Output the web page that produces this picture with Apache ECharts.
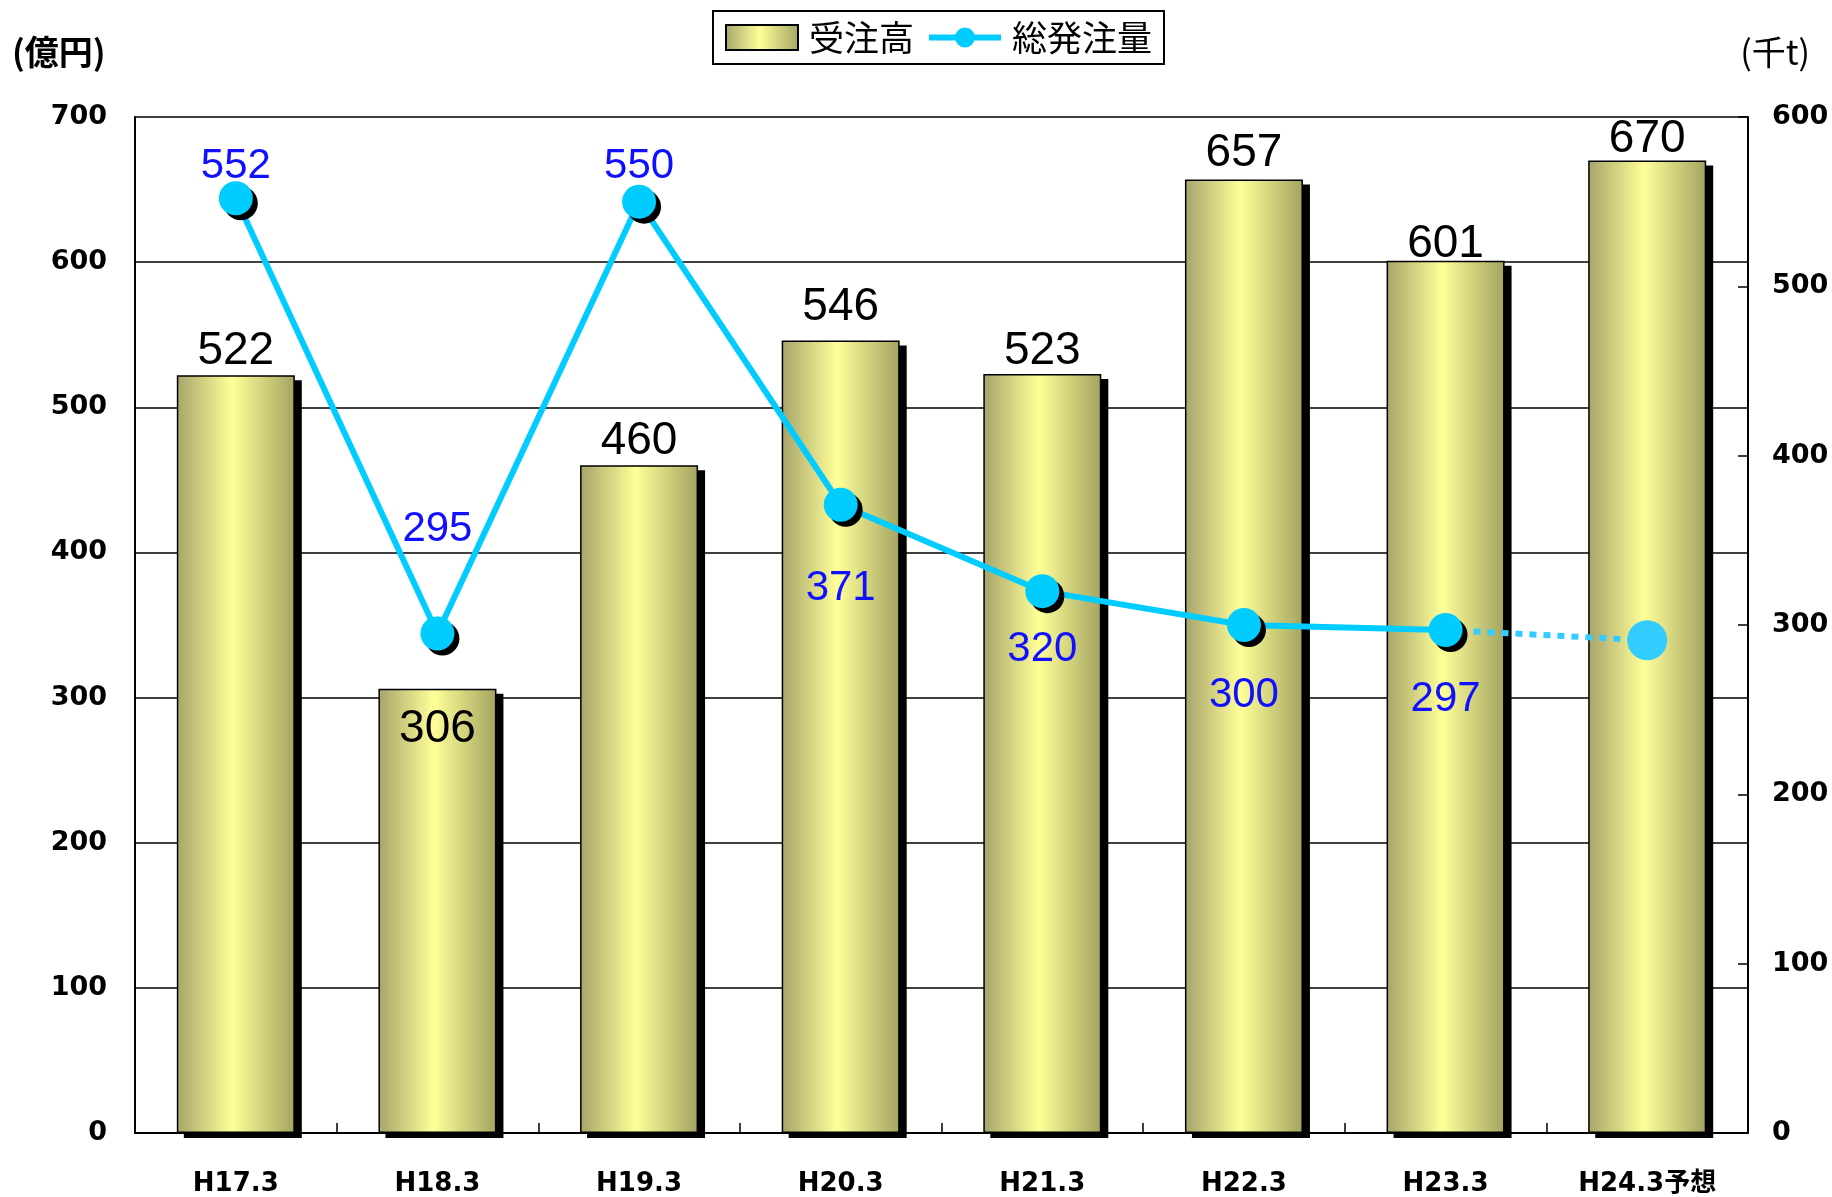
<!DOCTYPE html>
<html><head><meta charset="utf-8">
<script src="https://cdn.jsdelivr.net/npm/echarts@6/dist/echarts.min.js"></script>
<style>html,body{margin:0;padding:0;background:#fff}#c{width:1832px;height:1197px}</style>
</head><body><div id="c"></div>
<script>
const categories = ['H17.3','H18.3','H19.3','H20.3','H21.3','H22.3','H23.3','H24.3予想'];
const orders = [522, 306, 460, 546, 523, 657, 601, 670];
const volume = [552, 295, 550, 371, 320, 300, 297, 291];
const leftTicks = {min: 0, max: 700, interval: 100};
const rightTicks = {min: 0, max: 600, interval: 100};

const FONT = '"Liberation Sans", "Noto Sans CJK JP", Arial, sans-serif';
const AXFONT = '"DejaVu Sans", "Noto Sans CJK JP", sans-serif';
const CJK = '"Noto Sans CJK JP", sans-serif';
const BAR_W = 118;
const chart = echarts.init(document.getElementById('c'));

const barGrad = new echarts.graphic.LinearGradient(0,0,1,0,[
  {offset:0,color:'#a6a46a'},{offset:0.47,color:'#ffff99'},{offset:1,color:'#a4a462'}]);

const barLabelCfg = [
  {position:'top',distance:1},{position:'insideTop',distance:17},{position:'top',distance:1},
  {position:'top',distance:10},{position:'top',distance:0},{position:'top',distance:3},
  {position:'top',distance:-7},{position:'top',distance:-2}];
const lineLabelCfg = [
  {position:'top',distance:-6},{position:'top',distance:66},{position:'top',distance:-3},
  {position:'bottom',distance:46},{position:'bottom',distance:20},{position:'bottom',distance:32},
  {position:'bottom',distance:31}];

const barData = orders.map((v,i)=>({value:v,label:barLabelCfg[i]}));
const shadowData = orders.map((v,i)=>[i,v]);
const solidData = volume.map((v,i)=> i<7 ? {value:v,label:lineLabelCfg[i]} : '-');
const dotData = volume.map((v,i)=> i>=6 ? v : '-');

chart.setOption({
  animation:false,
  textStyle:{fontFamily:FONT},
  grid:{left:135,right:84,top:117,bottom:62,containLabel:false},
  legend:{
    data:[{name:'受注高',icon:'rect'},{name:'総発注量'}], top:11, left:713,
    borderColor:'#000', borderWidth:2, padding:[9,12,9,12],
    itemWidth:72, itemHeight:25, itemGap:12,
    lineStyle:{width:6},
    itemStyle:{shadowColor:'transparent',shadowOffsetX:0,shadowOffsetY:0},
    textStyle:{fontSize:35, color:'#000', fontFamily:CJK, padding:[0,0,0,6]}
  },
  xAxis:{
    type:'category', data:categories,
    axisLine:{lineStyle:{color:'#000',width:2}},
    axisTick:{show:true,inside:true,length:10,lineStyle:{color:'#000',width:1.5}},
    axisLabel:{fontSize:26,fontWeight:'bold',color:'#000',margin:38,fontFamily:AXFONT}
  },
  yAxis:[
    {type:'value',min:leftTicks.min,max:leftTicks.max,interval:leftTicks.interval,
     axisLine:{show:true,lineStyle:{color:'#000',width:2}},
     axisTick:{show:false},
     splitLine:{show:true,lineStyle:{color:'#000',width:1.5}},
     axisLabel:{fontSize:27,color:'#000',fontWeight:'bold',margin:28,fontFamily:AXFONT,padding:[12,0,0,0]}},
    {type:'value',min:rightTicks.min,max:rightTicks.max,interval:rightTicks.interval,position:'right',
     axisLine:{show:true,lineStyle:{color:'#000',width:2}},
     axisTick:{show:true,inside:true,length:10,lineStyle:{color:'#000',width:1.5}},
     splitLine:{show:false},
     axisLabel:{fontSize:27,color:'#000',fontWeight:'bold',margin:24,fontFamily:AXFONT,padding:[12,0,0,0]}}
  ],
  series:[
    {name:'shadow',type:'custom',yAxisIndex:0,data:shadowData,z:1,silent:true,
     encode:{x:0,y:1},
     renderItem:(params,api)=>{
       const top = api.coord([api.value(0), api.value(1)]);
       const base = api.coord([api.value(0), 0]);
       return {type:'rect',shape:{x:top[0]-BAR_W/2+7,y:top[1]+5,width:BAR_W,height:base[1]-top[1]},
               style:{fill:'#000'}};
     }},
    {name:'受注高',type:'bar',yAxisIndex:0,barWidth:BAR_W,data:barData,z:2,
     itemStyle:{color:barGrad,borderColor:'#000',borderWidth:1.5},
     label:{show:true,color:'#000',fontSize:46,fontFamily:FONT}},
    {name:'総発注量',type:'line',yAxisIndex:1,data:solidData,z:5,
     symbol:'circle',symbolSize:34,
     lineStyle:{color:'#00ccff',width:6},
     itemStyle:{color:'#00ccff',shadowColor:'#000',shadowBlur:0,shadowOffsetX:5,shadowOffsetY:5},
     label:{show:true,color:'#1010ff',fontSize:42,fontFamily:FONT}},
    {name:'予想',type:'line',yAxisIndex:1,data:dotData,z:4,
     symbol:'circle',symbolSize:(v,p)=> p.dataIndex===7 ? 40 : 0,
     lineStyle:{color:'#33ccff',width:6,type:[7,7]},
     itemStyle:{color:'#33ccff'},
     label:{show:false}}
  ],
  graphic:[
    {type:'text',left:12,top:35,style:{text:'(億円)',fontSize:34,fontWeight:'bold',fill:'#000',fontFamily:CJK}},
    {type:'text',right:22,top:35,style:{text:'(千t)',fontSize:34,fill:'#000',fontFamily:CJK}}
  ]
});
</script></body></html>
